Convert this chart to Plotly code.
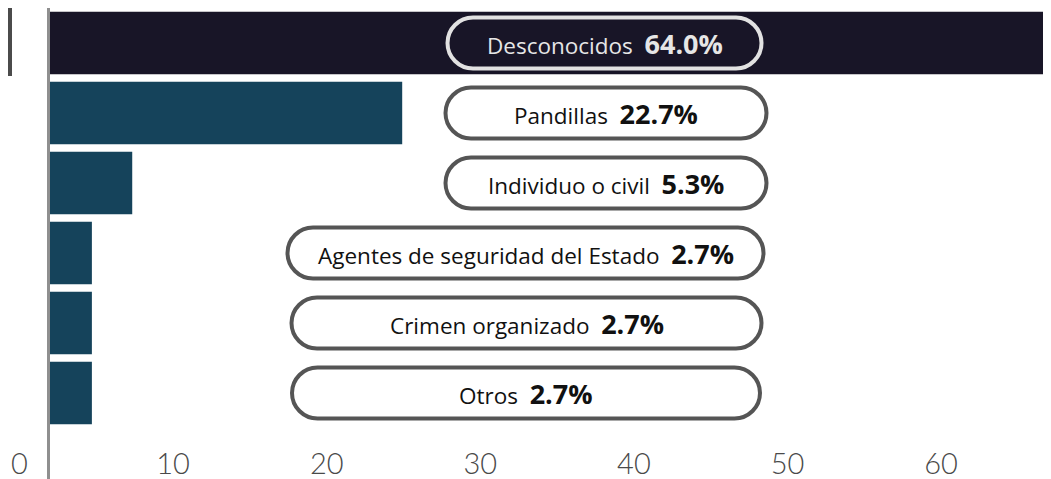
import plotly.graph_objects as go

# ---------------- data ----------------
categories = ["Desconocidos", "Pandillas", "Individuo o civil",
              "Agentes de seguridad del Estado", "Crimen organizado", "Otros"]
values = [64.0, 22.7, 5.3, 2.7, 2.7, 2.7]
tick_values = [0, 10, 20, 30, 40, 50, 60]
tick_labels = ["0", "10", "20", "30", "40", "50", "60"]

# ---------------- style ----------------
PAGE_OFF = 8                 # default body margin of the html page
W, H = 1051 - PAGE_OFF, 479 - PAGE_OFF
M_L, M_R, M_T, M_B = 0, 8, 0, 51
PLOT_W = W - M_L - M_R
PLOT_H = H - M_T - M_B
ZERO_PX = 50 - PAGE_OFF      # figure pixel of value 0 on the bar axis
BAR_PX_PER_UNIT = (PLOT_W - ZERO_PX) / max(values)
TICK_ZERO_PX = 19.5 - PAGE_OFF
TICK_PX_PER_UNIT = 15.36

bar_colors = ["#181527"] + ["#15435b"] * (len(values) - 1)
pill_centers = [604.5, 606, 606, 525.5, 526.5, 526]   # screen pixel centres
pill_widths = [314, 321, 321, 476, 470, 468]
pill_height = 51
pill_line = ["#e2e2e2"] + ["#555555"] * 5
pill_fill = ["rgba(0,0,0,0)"] + ["#ffffff"] * 5
text_colors = ["#e6e6e6"] + ["#111111"] * 5
FONT = "Open Sans"

fig = go.Figure()
fig.add_trace(go.Bar(
    x=values, y=categories, orientation="h",
    marker=dict(color=bar_colors, line=dict(width=0)),
    hoverinfo="skip", showlegend=False,
))
fig.add_trace(go.Scatter(x=[None], y=[None], xaxis="x2", mode="markers",
                         showlegend=False, hoverinfo="skip"))


def pill_path(x0, x1, h):
    r = h / 2
    k = 0.5523 * r
    y0, y1 = -r, r
    return (f"M {x0 + r},{y1} L {x1 - r},{y1} "
            f"C {x1 - r + k},{y1} {x1},{k} {x1},0 "
            f"C {x1},{-k} {x1 - r + k},{y0} {x1 - r},{y0} "
            f"L {x0 + r},{y0} "
            f"C {x0 + r - k},{y0} {x0},{-k} {x0},0 "
            f"C {x0},{k} {x0 + r - k},{y1} {x0 + r},{y1} Z")


shapes = []
annotations = []
for i, (cat, v) in enumerate(zip(categories, values)):
    cx = pill_centers[i] - 50
    w = pill_widths[i]
    shapes.append(dict(
        type="path", xref="x", yref="y", xsizemode="pixel", ysizemode="pixel",
        xanchor=0, yanchor=i,
        path=pill_path(cx - w / 2, cx + w / 2, pill_height),
        line=dict(color=pill_line[i], width=4), fillcolor=pill_fill[i], layer="above",
    ))
    annotations.append(dict(
        xref="x", yref="y", x=0, y=i, xshift=cx, showarrow=False,
        xanchor="center", yanchor="middle",
        text=(f"{cat}\u00a0\u00a0<b><span style='font-size:27px'>{v:.1f}%</span></b>"),
        font=dict(family=FONT, size=22.5, color=text_colors[i]),
    ))

# vertical axis line
shapes.append(dict(type="line", xref="x", yref="paper", xsizemode="pixel", ysizemode="pixel",
                   xanchor=0, yanchor=1, x0=-1.5, x1=-1.5, y0=0, y1=-H,
                   line=dict(color="#8f8f8f", width=3), layer="above"))
# grey tab at top-left
shapes.append(dict(type="rect", xref="paper", yref="paper", xsizemode="pixel", ysizemode="pixel",
                   xanchor=0, yanchor=1, x0=0, x1=12 - PAGE_OFF, y0=0, y1=-(76 - PAGE_OFF),
                   fillcolor="#4b4b4b", line=dict(width=0), layer="above"))

fig.update_layout(
    width=W, height=H,
    margin=dict(l=M_L, r=M_R, t=M_T, b=M_B, pad=0),
    paper_bgcolor="white", plot_bgcolor="white",
    bargap=0.104,
    showlegend=False,
    shapes=shapes, annotations=annotations,
    xaxis=dict(range=[-ZERO_PX / BAR_PX_PER_UNIT, (PLOT_W - ZERO_PX) / BAR_PX_PER_UNIT],
               showticklabels=False, showgrid=False, zeroline=False, showline=False,
               fixedrange=True),
    xaxis2=dict(overlaying="x", side="bottom", anchor="y",
                range=[-TICK_ZERO_PX / TICK_PX_PER_UNIT, (PLOT_W - TICK_ZERO_PX) / TICK_PX_PER_UNIT],
                tickvals=tick_values, ticktext=tick_labels, ticks="",
                showgrid=False, zeroline=False, showline=False,
                tickfont=dict(family="Lato", size=29, color="#4a4a4a", weight=300),
                ticklabelstandoff=16),
    yaxis=dict(type="category", categoryorder="array", categoryarray=categories,
               range=[len(categories) - 0.5, -0.5], showticklabels=False,
               showgrid=False, zeroline=False, showline=False, fixedrange=True),
)

fig.write_html("out.html")
